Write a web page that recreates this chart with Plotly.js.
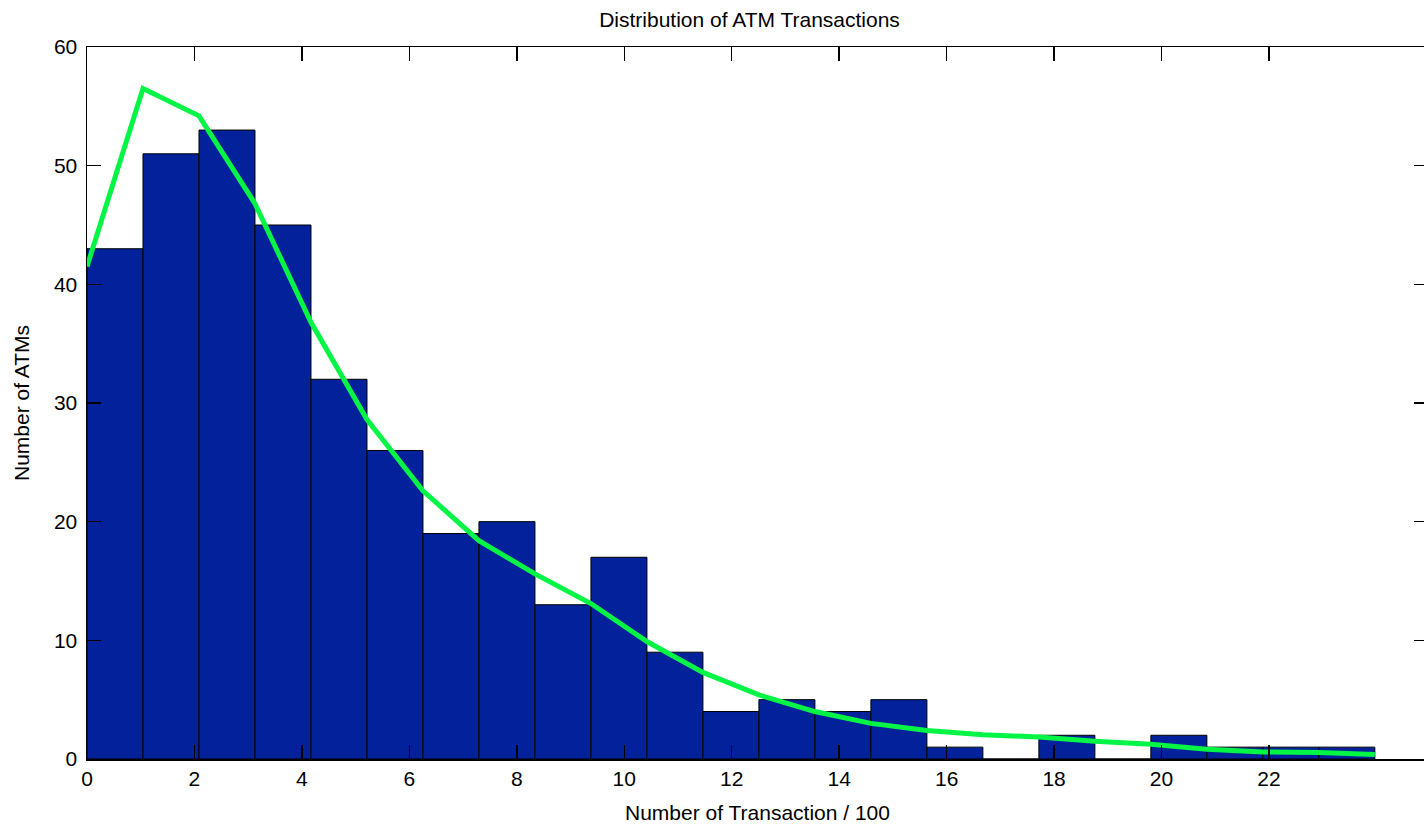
<!DOCTYPE html>
<html>
<head>
<meta charset="utf-8">
<script src="https://cdn.plot.ly/plotly-3.0.1.min.js"></script>
<style>
html,body{margin:0;padding:0;overflow:hidden;background:#fff;}
#chart{width:1430px;height:824px;}
</style>
</head>
<body>
<div id="chart"></div>
<script>
// Histogram data
const binStart = 0;
const binWidth = 1.0422;
const counts = [43, 51, 53, 45, 32, 26, 19, 20, 13, 17, 9, 4, 5, 4, 5, 1, 0, 2, 0, 2, 1, 1, 1];
// Fitted curve, evaluated at the bin edges
const fitValues = [41.5, 56.5, 54.2, 46.8, 36.8, 28.6, 22.6, 18.4, 15.6, 13.1, 9.9, 7.3, 5.4, 4.0, 3.0, 2.4, 2.05, 1.85, 1.5, 1.24, 0.82, 0.6, 0.54, 0.37];
// Axis ticks
const xTickVals = [0, 2, 4, 6, 8, 10, 12, 14, 16, 18, 20, 22];
const yTickVals = [0, 10, 20, 30, 40, 50, 60];

const barX = counts.map((_, i) => binStart + (i + 0.5) * binWidth);
const edgeX = fitValues.map((_, i) => binStart + i * binWidth);

const FONT = 'Liberation Sans, Arial, sans-serif';

const traces = [
  {
    type: 'bar',
    x: barX,
    y: counts,
    width: binWidth,
    marker: {color: '#02219a', line: {color: '#000000', width: 1}},
    hoverinfo: 'x+y'
  },
  {
    type: 'scatter',
    mode: 'lines',
    x: edgeX,
    y: fitValues,
    line: {color: '#00f545', width: 5}
  }
];

const layout = {
  width: 1430,
  height: 824,
  showlegend: false,
  paper_bgcolor: '#ffffff',
  plot_bgcolor: '#ffffff',
  margin: {l: 87, r: 2, t: 47, b: 65, pad: 0},
  font: {family: FONT, size: 21, color: '#000'},
  title: {
    text: 'Distribution of ATM Transactions',
    font: {family: FONT, size: 21, color: '#000'},
    xref: 'container', yref: 'container',
    x: 749.5 / 1430, y: 1 - 19.5 / 824,
    xanchor: 'center', yanchor: 'middle'
  },
  xaxis: {
    range: [0, 24.96],
    tickvals: xTickVals,
    ticktext: xTickVals.map(String),
    ticks: 'inside',
    ticklen: 14,
    tickwidth: 1.5,
    tickcolor: '#000',
    showline: true,
    linecolor: '#000',
    linewidth: 1.5,
    mirror: 'ticks',
    showgrid: false,
    zeroline: false,
    tickfont: {family: FONT, size: 21, color: '#000'},
    title: {text: 'Number of Transaction / 100', font: {family: FONT, size: 21, color: '#000'}, standoff: 16},
    automargin: false
  },
  yaxis: {
    range: [0, 60],
    tickvals: yTickVals,
    ticktext: yTickVals.map(String),
    ticks: 'inside',
    ticklen: 14,
    tickwidth: 1.5,
    tickcolor: '#000',
    showline: true,
    linecolor: '#000',
    linewidth: 1.5,
    mirror: 'ticks',
    showgrid: false,
    zeroline: false,
    ticklabelstandoff: 4,
    tickfont: {family: FONT, size: 21, color: '#000'},
    title: {text: 'Number of ATMs', font: {family: FONT, size: 21, color: '#000'}, standoff: 18},
    automargin: false
  }
};

Plotly.newPlot('chart', traces, layout, {displayModeBar: false, staticPlot: true});
</script>
</body>
</html>
